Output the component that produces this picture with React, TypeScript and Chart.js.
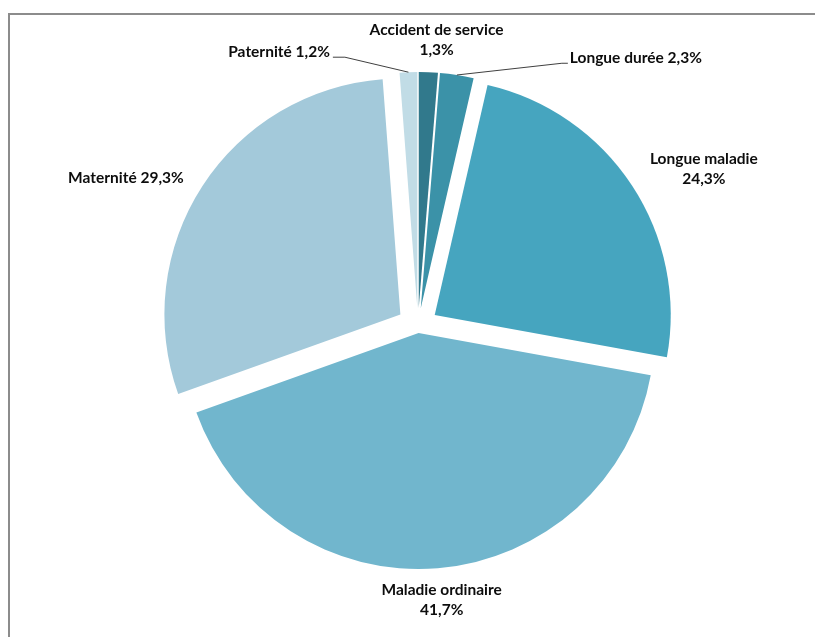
import React, { useEffect, useRef } from "react";
import { Chart, registerables } from "chart.js";

Chart.register(...registerables);

const categories = [
  "Accident de service",
  "Longue durée",
  "Longue maladie",
  "Maladie ordinaire",
  "Maternité",
  "Paternité",
];
const values = [1.3, 2.3, 24.3, 41.7, 29.3, 1.2];

// styling / layout (not data)
const colors = ["#31798c", "#3b92a8", "#46a5bf", "#71b6cd", "#a3c9da", "#c1dce6"];
const explode = [18, 18, 20, 7, 21, 18];
const twoLine = [true, false, true, true, false, false];
const leader = [false, true, false, false, false, true];
const nudges: [number, number][] = [
  [5, 0],
  [167, 5],
  [17, 1],
  [-2, 0],
  [-18, 4],
  [-127, 2],
];

const FONT = "bold 15.5px Lato, 'Liberation Sans', sans-serif";
const LINE_H = 20;

const fmt = (v: number) => v.toFixed(1).replace(".", ",") + "%";

const explodePlugin = {
  id: "explodeArcs",
  beforeDatasetsDraw(chart: any) {
    const ctx = chart.ctx;
    const meta = chart.getDatasetMeta(0);
    meta.data.forEach((arc: any, i: number) => {
      const mid = (arc.startAngle + arc.endAngle) / 2;
      const d = explode[i];
      ctx.save();
      ctx.translate(Math.cos(mid) * d, Math.sin(mid) * d);
      arc.draw(ctx);
      ctx.restore();
    });
    return false;
  },
};

const framePlugin = {
  id: "frame",
  beforeDraw(chart: any) {
    const ctx = chart.ctx;
    ctx.save();
    ctx.fillStyle = "#ffffff";
    ctx.fillRect(0, 0, chart.width, chart.height);
    ctx.strokeStyle = "#8c8c8c";
    ctx.lineWidth = 2;
    ctx.beginPath();
    ctx.moveTo(chart.width, 14);
    ctx.lineTo(9, 14);
    ctx.lineTo(9, chart.height);
    ctx.stroke();
    ctx.restore();
  },
};

const labelPlugin = {
  id: "pieLabels",
  afterDraw(chart: any) {
    const ctx = chart.ctx;
    const meta = chart.getDatasetMeta(0);
    ctx.save();
    ctx.font = FONT;
    ctx.fillStyle = "#0d0d0d";
    ctx.textAlign = "center";
    ctx.textBaseline = "middle";
    meta.data.forEach((arc: any, i: number) => {
      const mid = (arc.startAngle + arc.endAngle) / 2;
      const r = arc.outerRadius;
      const d = explode[i];
      const lines = twoLine[i]
        ? [categories[i], fmt(values[i])]
        : [categories[i] + " " + fmt(values[i])];
      const w = Math.max(...lines.map((l) => ctx.measureText(l).width));
      const halfW = w / 2;
      const halfH = (lines.length * LINE_H) / 2;
      const dist = r + d + 12;
      const ax = arc.x + Math.cos(mid) * dist;
      const ay = arc.y + Math.sin(mid) * dist;
      const cx = ax + halfW * Math.cos(mid) + nudges[i][0];
      const cy = ay + halfH * Math.sin(mid) + nudges[i][1];
      lines.forEach((l, k) => {
        ctx.fillText(l, cx, cy - halfH + LINE_H / 2 + k * LINE_H);
      });
      if (leader[i]) {
        const sx = arc.x + Math.cos(mid) * (r + d);
        const sy = arc.y + Math.sin(mid) * (r + d);
        const right = cx > sx;
        const tx = right ? cx - halfW - 2 : cx + halfW + 3;
        const ty = cy + 5;
        const hx = right ? tx - 6 : tx + 12;
        ctx.save();
        ctx.strokeStyle = "#404040";
        ctx.lineWidth = 1;
        ctx.beginPath();
        ctx.moveTo(sx, sy);
        ctx.lineTo(hx, ty);
        ctx.lineTo(tx, ty);
        ctx.stroke();
        ctx.restore();
      }
    });
    ctx.restore();
  },
};

export default function App() {
  const ref = useRef<HTMLCanvasElement | null>(null);
  useEffect(() => {
    if (!ref.current) return;
    const chart = new Chart(ref.current, {
      type: "pie",
      data: {
        labels: categories,
        datasets: [
          {
            data: values,
            backgroundColor: colors,
            borderWidth: 0,
            offset: 0,
          },
        ],
      },
      options: {
        responsive: false,
        animation: false,
        radius: 236,
        layout: { padding: { left: 21, top: 15, right: 0, bottom: 0 } },
        plugins: {
          legend: { display: false },
          tooltip: { enabled: false },
        },
      } as any,
      plugins: [framePlugin, explodePlugin, labelPlugin],
    });
    return () => chart.destroy();
  }, []);
  return (
    <div style={{ position: "absolute", left: 0, top: 0, width: 815, height: 637 }}>
      <canvas ref={ref} width={815} height={637} />
    </div>
  );
}
